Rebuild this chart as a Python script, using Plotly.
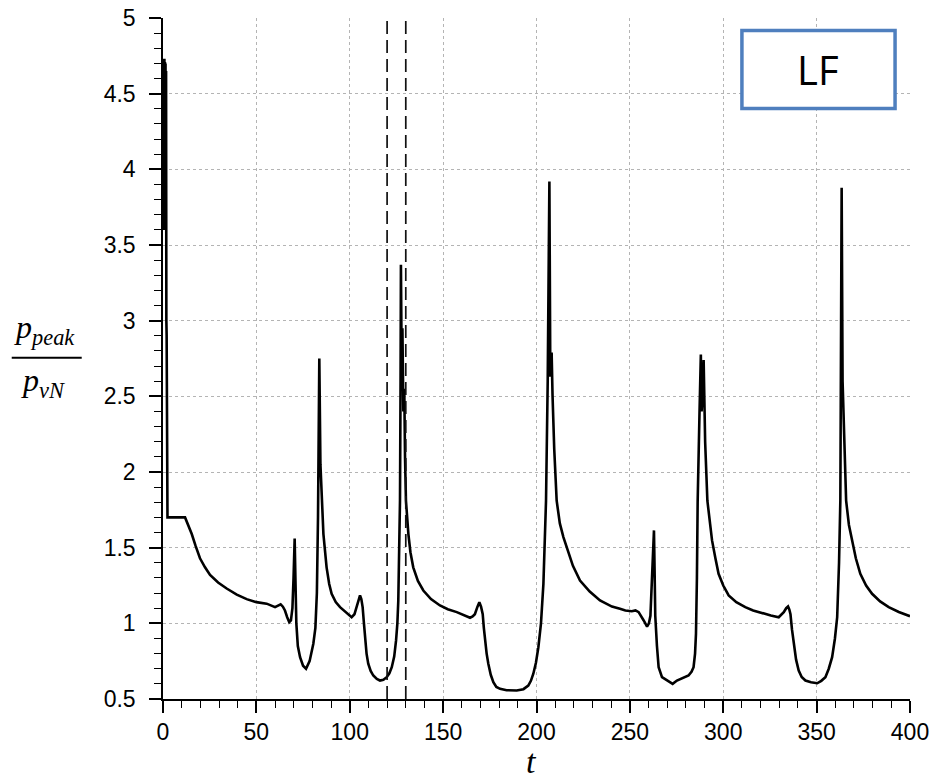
import plotly.graph_objects as go

# ---------------- data ----------------
t = [0.0, 0.15, 0.3, 0.45, 0.6, 0.75, 0.9, 1.05, 1.2, 1.35, 1.5, 1.65, 1.8, 1.95, 2.1, 2.4,
     11.8, 13.5, 15.4, 17.5, 19.8, 22.5, 25.2,
     29.5, 34.1, 39.5, 44.8, 50.0, 55.5, 60.0, 61.5, 63.0, 64.2, 65.3, 66.5, 67.6, 68.5, 69.3,
     69.9, 70.5, 70.9, 71.4, 72.2, 73.4, 75.0, 76.6, 78.5, 80.5, 81.6, 82.4, 83.0, 83.7, 84.3,
     85.0, 85.9, 87.6, 89.0, 90.3, 92.5, 94.8, 98.0, 101.0, 102.5, 103.7, 104.8, 105.5, 106.2,
     106.9, 107.6, 108.2, 109.0, 109.9, 111.2, 112.6, 114.5, 116.2, 118.0, 119.8, 121.2, 122.5,
     123.8, 124.8, 125.5, 126.0, 126.5, 126.9, 127.2, 127.4, 127.8, 128.2, 128.7, 129.2, 129.6,
     130.1, 131.4, 132.5, 134.0, 136.5, 139.4, 143.5, 148.3, 152.5, 157.3, 161.0, 164.4, 165.8,
     167.0, 168.4, 169.4, 170.3, 171.2, 171.8, 172.4, 173.3, 174.2, 175.5, 176.9, 178.5, 180.5,
     184.0, 189.4, 193.0, 195.6, 197.0, 198.3, 199.7, 201.0, 202.4, 203.7, 204.5, 205.1, 206.0,
     206.9, 207.4, 208.1, 208.6, 209.5, 210.8, 212.5, 214.4, 216.2, 219.5, 223.3, 228.5, 234.0,
     240.4, 244.7, 247.6, 251.0, 253.0, 254.7, 256.0, 257.4, 259.2, 260.2, 261.0, 261.8, 262.4,
     262.9, 263.3, 263.6, 264.5, 265.4, 267.2, 270.0, 272.9, 275.2, 278.5, 281.4, 283.0, 284.1,
     284.9, 285.4, 285.9, 286.3, 287.3, 288.0, 288.4, 288.9, 289.5, 290.3, 291.5, 292.7, 294.0,
     295.8, 297.5, 300.0, 302.9, 307.0, 311.8, 316.0, 320.8, 325.5, 329.7, 331.0, 332.4, 333.7,
     334.7, 335.4, 336.0, 336.8, 337.7, 339.0, 340.4, 342.0, 344.0, 347.0, 350.3, 352.5, 354.7,
     356.5, 358.3, 359.8, 361.0, 362.0, 362.7, 363.4, 363.9, 364.5, 365.8, 367.3, 369.0, 371.0,
     373.4, 376.5, 379.7, 384.0, 388.6, 394.0, 400.0]
p_ratio = [4.70, 4.73, 3.62, 4.72, 3.60, 4.73, 3.62, 4.71, 3.60, 4.70, 3.60, 4.65, 3.00, 2.90,
           1.72, 1.70, 1.70, 1.65, 1.59, 1.51, 1.43,
           1.37, 1.32, 1.27, 1.23, 1.19, 1.16, 1.14, 1.13, 1.107, 1.115, 1.125, 1.11, 1.085, 1.04,
           1.008, 1.02, 1.10, 1.30, 1.56, 1.30, 1.00, 0.85, 0.776, 0.72, 0.70, 0.75, 0.865, 0.97,
           1.20, 1.70, 2.75, 2.05, 1.80, 1.59, 1.37, 1.26, 1.195, 1.14, 1.107, 1.07, 1.04, 1.06,
           1.107, 1.16, 1.184, 1.16, 1.107, 1.00, 0.887, 0.80, 0.733, 0.685, 0.655, 0.632, 0.622,
           0.627, 0.644, 0.67, 0.71, 0.78, 0.887, 1.00, 1.15, 1.45, 1.81, 2.60, 3.37, 2.70, 2.95,
           2.40, 2.55, 2.10, 1.81, 1.59, 1.47, 1.37, 1.28, 1.217, 1.16, 1.118, 1.093, 1.074, 1.055,
           1.037, 1.045, 1.06, 1.11, 1.14, 1.11, 1.06, 0.97, 0.887, 0.80, 0.733, 0.66, 0.611, 0.58,
           0.567, 0.558, 0.556, 0.565, 0.589, 0.62, 0.667, 0.74, 0.842, 1.00, 1.261, 1.60, 1.81,
           2.60, 3.92, 2.63, 2.79, 2.50, 2.15, 1.81, 1.66, 1.57, 1.503, 1.38, 1.283, 1.21, 1.151,
           1.111, 1.096, 1.085, 1.08, 1.085, 1.074, 1.05, 1.019, 0.979, 1.00, 1.05, 1.25, 1.45,
           1.614, 1.30, 1.05, 0.85, 0.71, 0.644, 0.62, 0.60, 0.622, 0.637, 0.655, 0.68, 0.71, 0.80,
           0.931, 1.30, 1.81, 2.40, 2.777, 2.40, 2.50, 2.74, 2.20, 1.81, 1.66, 1.548, 1.43, 1.327,
           1.25, 1.184, 1.14, 1.107, 1.085, 1.067, 1.052, 1.04, 1.055, 1.074, 1.10, 1.111, 1.09,
           1.06, 0.96, 0.865, 0.76, 0.688, 0.645, 0.622, 0.61, 0.604, 0.62, 0.644, 0.70, 0.776,
           0.90, 1.04, 1.40, 1.81, 3.879, 2.60, 2.30, 1.81, 1.65, 1.548, 1.43, 1.327, 1.25, 1.195,
           1.145, 1.107, 1.075, 1.047]

window_t = [120, 130]
x_ticks = [0, 50, 100, 150, 200, 250, 300, 350, 400]
y_ticks = [0.5, 1, 1.5, 2, 2.5, 3, 3.5, 4, 4.5, 5]
y_tick_text = ["0.5", "1", "1.5", "2", "2.5", "3", "3.5", "4", "4.5", "5"]
label_text = "LF"

# ---------------- figure ----------------
fig = go.Figure()
fig.add_trace(go.Scatter(x=t, y=p_ratio, mode="lines",
                         line=dict(color="black", width=2.6), showlegend=False,
                         hoverinfo="skip"))

for wt in window_t:
    fig.add_shape(type="line", xref="x", yref="y", x0=wt, x1=wt, y0=0.5, y1=5,
                  line=dict(color="#111111", width=1.7, dash="13px,6px"))

# LF box
fig.add_shape(type="rect", xref="paper", yref="paper",
              x0=0.775, x1=0.980, y0=0.867, y1=0.9816,
              line=dict(color="#4F7FBE", width=3.5), fillcolor="white")
fig.add_annotation(xref="paper", yref="paper", x=0.8775, y=0.9244,
                   text=label_text, showarrow=False,
                   font=dict(family="Open Sans", size=40, color="black"),
                   xanchor="center", yanchor="middle")

# y-axis title as fraction
serif = "Liberation Serif"
fig.add_annotation(xref="paper", yref="paper", x=-0.158, y=0.542,
                   text="<i>p<sub>peak</sub></i>", showarrow=False,
                   font=dict(family=serif, size=32, color="black"),
                   xanchor="center", yanchor="middle")
fig.add_shape(type="line", xref="paper", yref="paper", x0=-0.2025, x1=-0.1088,
              y0=0.501, y1=0.501, line=dict(color="black", width=2))
fig.add_annotation(xref="paper", yref="paper", x=-0.160, y=0.465,
                   text="<i>p<sub>vN</sub></i>", showarrow=False,
                   font=dict(family=serif, size=32, color="black"),
                   xanchor="center", yanchor="middle")
# x-axis title
fig.add_annotation(xref="paper", yref="paper", x=0.4936, y=-0.092,
                   text="<i>t</i>", showarrow=False,
                   font=dict(family=serif, size=34, color="black"),
                   xanchor="center", yanchor="middle")

tick_font = dict(family="Liberation Sans", size=23, color="black")
grid = dict(showgrid=True, gridcolor="#b4b4b4", gridwidth=1, griddash="dot")

fig.update_xaxes(range=[0, 400], tickvals=x_ticks, ticks="outside", ticklen=12,
                 tickwidth=1.5, tickcolor="black", showline=True, linecolor="black",
                 linewidth=1.5, zeroline=False, tickfont=tick_font, automargin=False,
                 minor=dict(dtick=10, ticks="outside", ticklen=7, tickwidth=1.2,
                            tickcolor="black", showgrid=False),
                 **grid)
fig.update_yaxes(range=[0.5, 5], tickvals=y_ticks, ticktext=y_tick_text, ticks="outside",
                 ticklen=12, tickwidth=1.5, tickcolor="black", showline=True,
                 linecolor="black", linewidth=1.5, zeroline=False, tickfont=tick_font,
                 ticklabelstandoff=9, automargin=False,
                 minor=dict(dtick=0.1, tick0=0.5, ticks="outside", ticklen=7, tickwidth=1.2,
                            tickcolor="black", showgrid=False),
                 **grid)

fig.update_layout(width=932, height=779, autosize=False,
                  margin=dict(l=163, r=22, t=18, b=80),
                  plot_bgcolor="white", paper_bgcolor="white")

fig.write_html("out.html")
